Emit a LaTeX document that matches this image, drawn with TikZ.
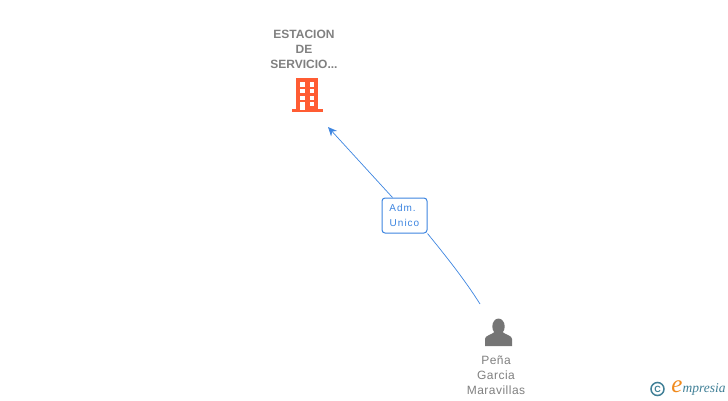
\documentclass[tikz,border=0pt]{standalone}
\usepackage{fontspec}
\setmainfont{Liberation Sans}
\newfontfamily\logoserif{Liberation Serif}
\definecolor{lbl}{HTML}{808080}
\definecolor{bld}{HTML}{FF5C33}
\definecolor{lnk}{HTML}{3D85E0}
\definecolor{prs}{HTML}{757575}
\definecolor{logob}{HTML}{3F7F96}
\definecolor{logoo}{HTML}{F08A1D}
\usetikzlibrary{arrows.meta}
\tikzset{
 px/.style={x=1pt,y=-1pt},
 title/.style={text=lbl,font=\fontsize{12}{15}\selectfont\bfseries,align=center,inner sep=0pt},
 pname/.style={text=lbl,font=\fontsize{12}{15.2}\selectfont\addfontfeature{LetterSpace=4},align=center,inner sep=0pt},
 role/.style={draw=lnk,line width=1pt,rounded corners=3pt,fill=white,minimum width=45pt,minimum height=35pt,inner sep=0pt,text=lnk,align=center,font=\fontsize{10}{15}\selectfont\addfontfeature{LetterSpace=10}},
 link/.style={draw=lnk,line width=0.7pt},
}
\begin{document}
\begin{tikzpicture}[px]
\useasboundingbox (0,0) rectangle (728,400);
\coordinate (top) at (328,127);
\coordinate (bot) at (480,304);
\node[role] (r) at (404.5,215.5) {Adm.\kern4pt\\Unico};
\draw[link,-{Stealth[length=9pt,width=8pt]}] (r.north west) ++(11,0) -- (top);
\draw[link] (r.south east) .. controls (445,255) and (465,280) .. (bot);
\node[title] (t) at (304,49) {ESTACION\\DE\\SERVICIO...};
% building
\fill[bld] (296,78) rectangle (318,109);
\fill[bld] (291.5,109) rectangle (323,112);
\foreach \x in {300,309.7}{\foreach \y in {82.3,89,95.5}{\fill[white] (\x,\y) rectangle (\x+4.5,\y+4.4);}}
\fill[white] (309.7,102.2) rectangle (314.2,106.4);
\fill[white] (300,101.8) rectangle (304.5,110);
% person
\fill[prs] (498.5,326.5) ellipse [x radius=6.2,y radius=8];
\fill[prs] (485,346) -- (485,339) .. controls (485,335.5) and (491,335) .. (494.5,332)
 -- (502.5,332) .. controls (506,335) and (512,335.5) .. (512,339) -- (512,346) -- cycle;
\node[pname] (p) at (496,375) {Peña\\Garcia\\Maravillas};
% logo
\node[draw=logob,line width=1.5pt,circle,minimum size=13pt,inner sep=0pt,text=logob,font=\fontsize{9}{9}\selectfont\bfseries] (c) at (657.5,389) {C};
\node[text=logoo,font=\logoserif\fontsize{25}{25}\selectfont\itshape,inner sep=0pt] (e) at (677,387) {e};
\node[text=logob,font=\logoserif\fontsize{13.5}{13.5}\selectfont\itshape,inner sep=0pt,anchor=west] (m) at (682.5,389.5) {mpresia};
\end{tikzpicture}
\end{document}
